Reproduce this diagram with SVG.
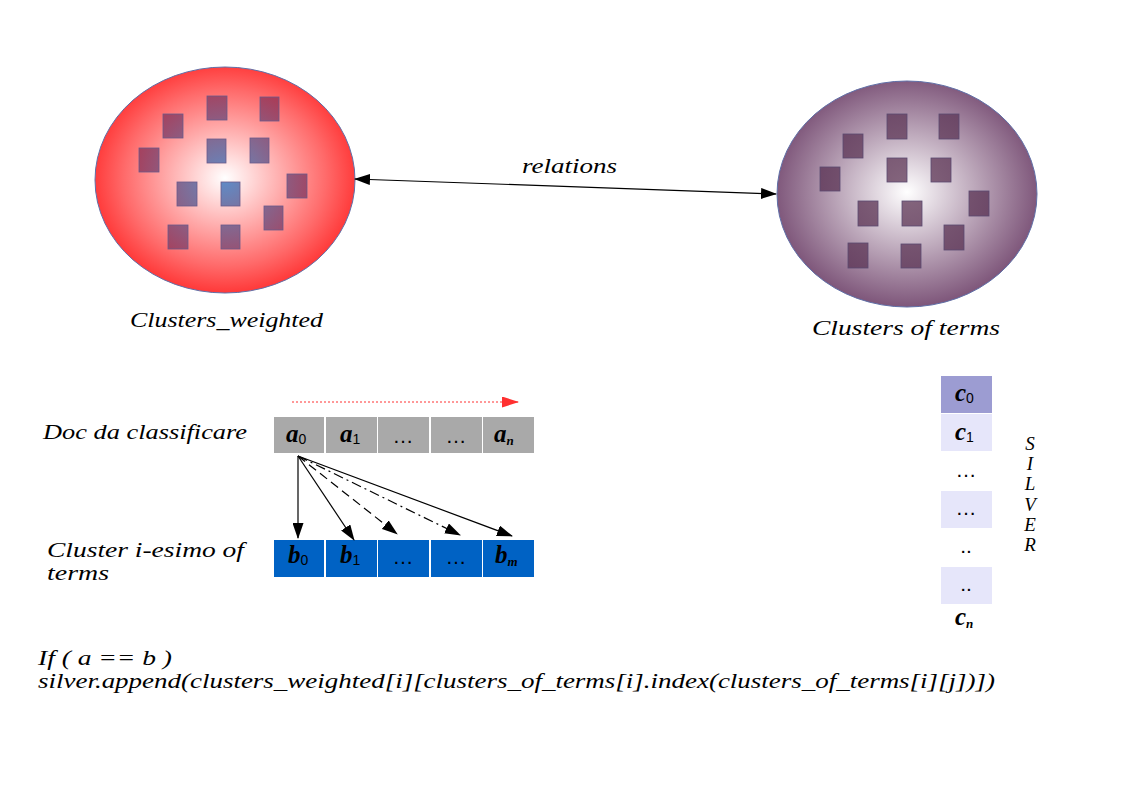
<svg xmlns="http://www.w3.org/2000/svg" width="1123" height="794" viewBox="0 0 1123 794">
<style>
.lbl{font-family:"Liberation Serif","Times New Roman",serif;font-style:italic;fill:#000}
.cell{font-family:"Liberation Serif","Times New Roman",serif;font-style:italic;font-weight:bold;font-size:25px;fill:#000}
.sub{font-family:"Liberation Sans",Arial,sans-serif;font-style:normal;font-weight:normal;font-size:14px}
.subi{font-family:"Liberation Serif","Times New Roman",serif;font-style:italic;font-weight:bold;font-size:13px}
.dots{font-family:"Liberation Sans",Arial,sans-serif;font-size:21px;fill:#000}
.sqL{fill:url(#sqL);stroke:#6a5a8a;stroke-width:0.8}
.sqR{fill:url(#sqR);stroke:#5a4a70;stroke-width:0.8}
.arr{stroke:#000;stroke-width:1.2;fill:none}
</style>
<defs>
<radialGradient id="gL" cx="225" cy="178" r="135" gradientUnits="userSpaceOnUse" gradientTransform="translate(225 178) scale(1 0.87) translate(-225 -178)">
<stop offset="0" stop-color="#ffffff"/>
<stop offset="0.75" stop-color="#ff6a6a"/>
<stop offset="1" stop-color="#ff3434"/>
</radialGradient>
<radialGradient id="gR" cx="907" cy="192" r="135" gradientUnits="userSpaceOnUse" gradientTransform="translate(907 192) scale(1 0.87) translate(-907 -192)">
<stop offset="0" stop-color="#ffffff"/>
<stop offset="1" stop-color="#7b5277"/>
</radialGradient>
<radialGradient id="sqL" cx="225" cy="180" r="95" gradientUnits="userSpaceOnUse">
<stop offset="0" stop-color="#5f8cc8"/>
<stop offset="0.4" stop-color="#7d6f9a"/>
<stop offset="1" stop-color="#a83e5a"/>
</radialGradient>
<radialGradient id="sqR" cx="907" cy="190" r="95" gradientUnits="userSpaceOnUse">
<stop offset="0" stop-color="#86687f"/>
<stop offset="1" stop-color="#6a4565"/>
</radialGradient>
<marker id="ah" markerUnits="userSpaceOnUse" markerWidth="16" markerHeight="11" refX="15" refY="5.5" orient="auto-start-reverse" viewBox="0 0 16 11">
<path d="M0,0 L16,5.5 L0,11 z" fill="#000"/>
</marker>
<marker id="ahR" markerUnits="userSpaceOnUse" markerWidth="17" markerHeight="11" refX="16" refY="5.5" orient="auto" viewBox="0 0 17 11">
<path d="M0,0 L17,5.5 L0,11 z" fill="#ff3030"/>
</marker>
</defs>
<rect width="1123" height="794" fill="#fff"/>

<g id="clusters-weighted">
<ellipse cx="225" cy="180" rx="130" ry="113" fill="url(#gL)" stroke="#6070a8" stroke-width="1"/>
<rect class="sqL" x="163" y="114" width="20" height="24"/>
<rect class="sqL" x="207" y="96" width="20" height="24"/>
<rect class="sqL" x="260" y="97" width="19" height="24"/>
<rect class="sqL" x="139" y="148" width="20" height="24"/>
<rect class="sqL" x="207" y="139" width="19" height="24"/>
<rect class="sqL" x="250" y="138" width="19" height="25"/>
<rect class="sqL" x="287" y="174" width="20" height="24"/>
<rect class="sqL" x="177" y="182" width="20" height="24"/>
<rect class="sqL" x="221" y="182" width="19" height="24"/>
<rect class="sqL" x="264" y="206" width="19" height="24"/>
<rect class="sqL" x="168" y="225" width="20" height="24"/>
<rect class="sqL" x="221" y="225" width="19" height="24"/>
<text class="lbl" x="130" y="327" font-size="21" textLength="193" lengthAdjust="spacingAndGlyphs">Clusters_weighted</text>
</g>

<g id="clusters-of-terms">
<ellipse cx="907" cy="194" rx="130" ry="113" fill="url(#gR)" stroke="#6070a8" stroke-width="1"/>
<rect class="sqR" x="843" y="134" width="20" height="24"/>
<rect class="sqR" x="887" y="114" width="20" height="25"/>
<rect class="sqR" x="939" y="114" width="20" height="25"/>
<rect class="sqR" x="820" y="167" width="20" height="24"/>
<rect class="sqR" x="887" y="158" width="20" height="24"/>
<rect class="sqR" x="931" y="158" width="20" height="24"/>
<rect class="sqR" x="969" y="191" width="20" height="25"/>
<rect class="sqR" x="858" y="201" width="20" height="25"/>
<rect class="sqR" x="902" y="201" width="20" height="25"/>
<rect class="sqR" x="944" y="225" width="20" height="25"/>
<rect class="sqR" x="848" y="243" width="20" height="25"/>
<rect class="sqR" x="901" y="244" width="20" height="24"/>
<text class="lbl" x="812" y="335" font-size="21" textLength="188" lengthAdjust="spacingAndGlyphs">Clusters of terms</text>
</g>

<g id="doc-array">
<text class="lbl" x="43" y="439" font-size="21" textLength="204" lengthAdjust="spacingAndGlyphs">Doc da classificare</text>
<g fill="#a9a9a9">
<rect x="274" y="417" width="50" height="36"/>
<rect x="326" y="417" width="51" height="36"/>
<rect x="378" y="417" width="51" height="36"/>
<rect x="431" y="417" width="51" height="36"/>
<rect x="483" y="417" width="51" height="36"/>
</g>
<text class="cell" x="286" y="442">a<tspan class="sub" dy="2">0</tspan></text>
<text class="cell" x="340" y="442">a<tspan class="sub" dy="2">1</tspan></text>
<text class="dots" x="403" y="443" text-anchor="middle">…</text>
<text class="dots" x="456" y="443" text-anchor="middle">…</text>
<text class="cell" x="494" y="442">a<tspan class="subi" dy="3">n</tspan></text>
</g>

<g id="cluster-array">
<text class="lbl" x="47" y="557" font-size="21" textLength="197" lengthAdjust="spacingAndGlyphs">Cluster i-esimo of</text>
<text class="lbl" x="47" y="580" font-size="21" textLength="62" lengthAdjust="spacingAndGlyphs">terms</text>
<g fill="#0062c4">
<rect x="274" y="540" width="50" height="37"/>
<rect x="326" y="540" width="51" height="37"/>
<rect x="378" y="540" width="51" height="37"/>
<rect x="431" y="540" width="51" height="37"/>
<rect x="483" y="540" width="51" height="37"/>
</g>
<text class="cell" x="288" y="563">b<tspan class="sub" dy="2">0</tspan></text>
<text class="cell" x="340" y="563">b<tspan class="sub" dy="2">1</tspan></text>
<text class="dots" x="403" y="564" text-anchor="middle">…</text>
<text class="dots" x="456" y="564" text-anchor="middle">…</text>
<text class="cell" x="495" y="563">b<tspan class="subi" dy="3">m</tspan></text>
</g>

<g id="silver">
<rect x="941" y="376" width="51" height="37" fill="#9c9cd2"/>
<rect x="941" y="414" width="51" height="37" fill="#e6e6fa"/>
<rect x="941" y="491" width="51" height="37" fill="#e6e6fa"/>
<rect x="941" y="567" width="51" height="37" fill="#e6e6fa"/>
<text class="cell" x="955" y="401">c<tspan class="sub" dy="2">0</tspan></text>
<text class="cell" x="955" y="440">c<tspan class="sub" dy="2">1</tspan></text>
<text class="dots" x="966" y="477" text-anchor="middle">…</text>
<text class="dots" x="966" y="515" text-anchor="middle">…</text>
<text class="dots" x="966" y="553" text-anchor="middle">..</text>
<text class="dots" x="966" y="591" text-anchor="middle">..</text>
<text class="cell" x="955" y="625">c<tspan class="subi" dy="3">n</tspan></text>
<g class="lbl" font-size="19" text-anchor="middle">
<text x="1030" y="450">S</text>
<text x="1030" y="470">I</text>
<text x="1030" y="490">L</text>
<text x="1030" y="511">V</text>
<text x="1030" y="531">E</text>
<text x="1030" y="551">R</text>
</g>
</g>

<g id="code">
<text class="lbl" x="38" y="665" font-size="22" textLength="134" lengthAdjust="spacingAndGlyphs">If ( a == b )</text>
<text class="lbl" x="38" y="688" font-size="22" textLength="957" lengthAdjust="spacingAndGlyphs">silver.append(clusters_weighted[i][clusters_of_terms[i].index(clusters_of_terms[i][j])])</text>
</g>

<g id="connectors">
<line class="arr" x1="355" y1="179" x2="776" y2="194" marker-start="url(#ah)" marker-end="url(#ah)"/>
<text class="lbl" x="522" y="173" font-size="21" textLength="95" lengthAdjust="spacingAndGlyphs">relations</text>
<line x1="292" y1="402" x2="518" y2="402" stroke="#ff3030" stroke-width="1" stroke-dasharray="2,2" marker-end="url(#ahR)"/>
<line class="arr" x1="298" y1="456" x2="298" y2="538" marker-end="url(#ah)"/>
<line class="arr" x1="298" y1="456" x2="354" y2="540" marker-end="url(#ah)"/>
<line class="arr" x1="298" y1="456" x2="397" y2="534" stroke-dasharray="9,5" marker-end="url(#ah)"/>
<line class="arr" x1="298" y1="456" x2="460" y2="535" stroke-dasharray="10,4,2,4" marker-end="url(#ah)"/>
<line class="arr" x1="298" y1="456" x2="512" y2="536" marker-end="url(#ah)"/>
</g>
</svg>
